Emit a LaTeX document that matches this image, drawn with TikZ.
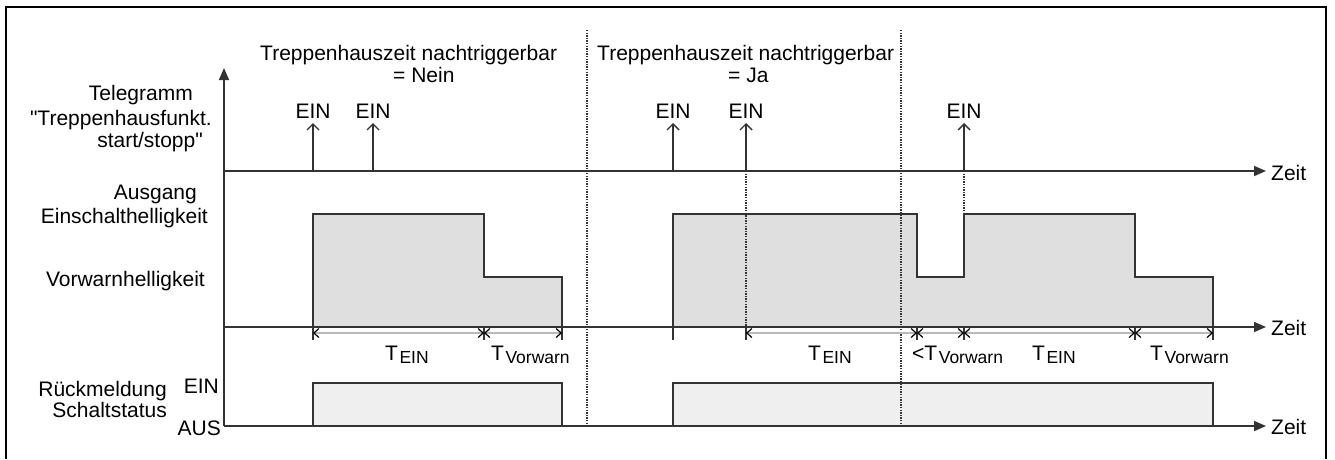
\documentclass[tikz,border=0pt]{standalone}
\usepackage{fontspec}
\setmainfont{Liberation Sans}[Ligatures=TeXOff]
\usetikzlibrary{arrows.meta}
\newcommand\Tsub[1]{T\hspace{1.5pt}\raisebox{-3pt}{\fontsize{17.5}{20}\selectfont #1}}
\definecolor{lc}{HTML}{333333}
\definecolor{fillA}{HTML}{DFDFDF}
\definecolor{fillB}{HTML}{EFEFEF}
\begin{document}
\begin{tikzpicture}[x=1pt,y=-1pt,
  txt/.style={font=\fontsize{21}{24}\selectfont, inner sep=0pt, text=black},
  axis/.style={draw=lc, line width=1.6pt, -{Triangle[length=12pt,width=10pt]}},
  evt/.style={draw=lc, line width=1.4pt, -{Straight Barb[length=6pt,width=12pt]}},
  sig/.style={draw=lc, line width=1.7pt, line join=miter},
  dots/.style={draw=lc, line width=1.1pt, dash pattern=on 1.3pt off 1.3pt},
  dimtip/.tip={Straight Barb[color=black,length=5pt,width=9pt,line width=1.2pt]},
  dimline/.style={draw=gray!55, line width=1.2pt, dimtip-dimtip},
  tick/.style={draw=lc, line width=1.1pt}]
\useasboundingbox (0,0) rectangle (1335,459);
\fill[white] (0,0) rectangle (1335,459);
% frame
\draw[black, line width=2.2pt] (6,459) -- (6,7) -- (1326,7) -- (1326,459);

% signal areas
\filldraw[sig, fill=fillA] (313,327) -- (313,214) -- (484,214) -- (484,277) -- (562,277) -- (562,327);
\filldraw[sig, fill=fillA] (673,327) -- (673,214) -- (917,214) -- (917,277) -- (964,277) -- (964,214) -- (1135,214) -- (1135,277) -- (1213,277) -- (1213,327);
\filldraw[sig, fill=fillB] (313,426) -- (313,383) -- (562,383) -- (562,426);
\filldraw[sig, fill=fillB] (673,426) -- (673,383) -- (1213,383) -- (1213,426);

% dotted lines
\coordinate (d1t) at (587,30); \coordinate (d1b) at (587,424);
\coordinate (d2t) at (901,30); \coordinate (d2b) at (901,424);
\coordinate (d3t) at (746,171); \coordinate (d3b) at (746,327);
\coordinate (d4t) at (964,171); \coordinate (d4b) at (964,214);
\draw[dots] (d1t) -- (d1b);
\draw[dots] (d2t) -- (d2b);
\draw[dots] (d3t) -- (d3b);
\draw[dots] (d4t) -- (d4b);

% axes
\coordinate (yb) at (224,426); \coordinate (yt) at (224,68);
\coordinate (a1s) at (224,171); \coordinate (a1e) at (1266,171);
\coordinate (a2s) at (224,327); \coordinate (a2e) at (1266,327);
\coordinate (a3s) at (224,426); \coordinate (a3e) at (1266,426);
\draw[axis] (yb) -- (yt);
\draw[axis] (a1s) -- (a1e);
\draw[axis] (a2s) -- (a2e);
\draw[axis] (a3s) -- (a3e);
\node[txt, anchor=base west] (z1) at (1271,180) {Zeit};
\node[txt, anchor=base west] (z2) at (1271,335) {Zeit};
\node[txt, anchor=base west] (z3) at (1271,434) {Zeit};

% events
\foreach \i/\x in {1/313,2/373,3/673,4/746,5/964}{
  \coordinate (e\i b) at (\x,171);
  \coordinate (e\i t) at (\x,123);
  \draw[evt] (e\i b) -- (e\i t);
  \node[txt, anchor=base] (ein\i) at (\x,118) {EIN};
}

% ticks
\foreach \i/\x in {1/313,2/484,3/562,4/673,5/746,6/917,7/964,8/1135,9/1213}{
  \coordinate (t\i a) at (\x,327);
  \coordinate (t\i b) at (\x,340);
  \draw[tick] (t\i a) -- (t\i b);
}
% dimensions
\draw[dimline] (313,333) -- (484,333);
\draw[dimline] (484,333) -- (562,333);
\draw[dimline] (746,333) -- (917,333);
\draw[dimline] (917,333) -- (964,333);
\draw[dimline] (964,333) -- (1135,333);
\draw[dimline] (1135,333) -- (1213,333);
\node[txt, anchor=base west] (l1) at (385,360) {\Tsub{EIN}};
\node[txt, anchor=base west] (l2) at (491,360) {\Tsub{Vorwarn}};
\node[txt, anchor=base west] (l3) at (808,360) {\Tsub{EIN}};
\node[txt, anchor=base west] (l4) at (912,360) {<\Tsub{Vorwarn}};
\node[txt, anchor=base west] (l5) at (1032,360) {\Tsub{EIN}};
\node[txt, anchor=base west] (l6) at (1150,360) {\Tsub{Vorwarn}};

% titles
\node[txt, anchor=base west] (h1a) at (260,60) {Treppenhauszeit nachtriggerbar};
\node[txt, anchor=base west] (h1b) at (393,82) {= Nein};
\node[txt, anchor=base west] (h2a) at (597,60) {Treppenhauszeit nachtriggerbar};
\node[txt, anchor=base west] (h2b) at (728,82) {= Ja};

% left labels
\node[txt, anchor=base east] (tg1) at (193,100) {Telegramm};
\node[txt, anchor=base east] (tg2) at (212,125) {"Treppenhausfunkt.};
\node[txt, anchor=base east] (tg3) at (203,147) {start/stopp"};
\node[txt, anchor=base east] (au1) at (197,199) {Ausgang};
\node[txt, anchor=base east] (au2) at (208,223) {Einschalthelligkeit};
\node[txt, anchor=base east] (vw) at (205,286) {Vorwarnhelligkeit};
\node[txt, anchor=base east] (rm1) at (167,396) {Rückmeldung};
\node[txt, anchor=base east] (rm2) at (167,417) {Schaltstatus};
\node[txt, anchor=base east] (s1) at (219,393) {EIN};
\node[txt, anchor=base east] (s0) at (221,435) {AUS};
\end{tikzpicture}
\end{document}
